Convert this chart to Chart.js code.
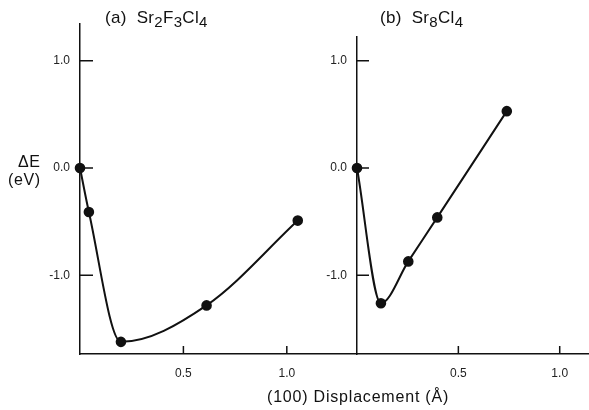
<!DOCTYPE html>
<html>
<head>
<meta charset="utf-8">
<script src="https://cdn.jsdelivr.net/npm/chart.js@4.4.1/dist/chart.umd.min.js"></script>
<style>
  body { margin: 0; background: #fff; font-family: "Liberation Sans", Arial, sans-serif; color: #111; }
  #fig { position: relative; width: 589px; height: 410px; overflow: hidden; }
  canvas { position: absolute; top: 0; }
  #chartA { left: 0; }
  #chartB { left: 290px; }
  .lbl { position: absolute; white-space: nowrap; line-height: 1; }
  .ttl { font-size: 17px; letter-spacing: 0.3px; }
  .ttl sub { font-size: 15px; vertical-align: -4px; line-height: 0; }
</style>
</head>
<body>
<div id="fig">
  <canvas id="chartA" width="363" height="410"></canvas>
  <canvas id="chartB" width="305" height="410"></canvas>
  <div class="lbl ttl" style="left:105px; top:9px;">(a)&nbsp; Sr<sub>2</sub>F<sub>3</sub>Cl<sub>4</sub></div>
  <div class="lbl ttl" style="left:380px; top:9px;">(b)&nbsp; Sr<sub>8</sub>Cl<sub>4</sub></div>
  <div class="lbl" style="left:18px; top:154px; font-size:16px; letter-spacing:0.6px;">&Delta;E</div>
  <div class="lbl" style="left:8px; top:172px; font-size:16px; letter-spacing:0.6px;">(eV)</div>
  <div class="lbl" style="left:267px; top:389px; font-size:16px; letter-spacing:0.8px;">(100) Displacement (Å)</div>
</div>
<script>
// panel (a) Sr2F3Cl4
const dispA = [0, 0.043, 0.198, 0.612, 1.053];
const energyA = [0, -0.41, -1.62, -1.28, -0.49];
// panel (b) Sr8Cl4
const dispB = [0, 0.118, 0.253, 0.396, 0.739];
const energyB = [0, -1.26, -0.87, -0.46, 0.53];
// tick marks
const yTicks = [-1, 0, 1];
const xTicks = [0.5, 1.0];

// ticks drawn inward from the axes
const inwardTicks = {
  id: 'inwardTicks',
  afterDraw(chart, args, opts) {
    const { ctx, chartArea: a, scales: { x, y } } = chart;
    ctx.save();
    ctx.strokeStyle = '#111';
    ctx.lineWidth = 1.5;
    ctx.beginPath();
    yTicks.forEach(v => {
      const py = y.getPixelForValue(v);
      ctx.moveTo(a.left, py);
      ctx.lineTo(a.left + opts.len, py);
    });
    xTicks.forEach(v => {
      const px = x.getPixelForValue(v);
      ctx.moveTo(px, a.bottom);
      ctx.lineTo(px, a.bottom - 8);
    });
    ctx.stroke();
    ctx.restore();
  }
};

function makeChart(id, xs, ys, opt) {
  return new Chart(document.getElementById(id), {
    type: 'line',
    data: {
      datasets: [{
        data: xs.map((v, i) => ({ x: v, y: ys[i] })),
        borderColor: '#111',
        backgroundColor: '#111',
        borderWidth: 2,
        pointRadius: 4.3,
        pointBackgroundColor: '#111',
        cubicInterpolationMode: 'monotone',
        clip: false
      }]
    },
    options: {
      responsive: false,
      animation: false,
      layout: { padding: { top: opt.top, right: 0, left: 0, bottom: 0 } },
      plugins: {
        legend: { display: false },
        tooltip: { enabled: false },
        inwardTicks: { len: opt.tickLen }
      },
      scales: {
        x: {
          type: 'linear',
          min: 0,
          max: opt.xMax,
          afterFit: s => { s.height = 56; },
          grid: { display: false, drawTicks: false },
          border: { display: true, color: '#111', width: 1.5 },
          ticks: {
            stepSize: 0.5,
            includeBounds: false,
            padding: 12,
            color: '#222',
            font: { family: 'Liberation Sans', size: 12 },
            callback: v => xTicks.includes(v) ? v.toFixed(1) : ''
          }
        },
        y: {
          min: -1.733,
          max: opt.yMax,
          afterFit: s => { s.width = opt.yWidth; },
          grid: { display: false, drawTicks: false },
          border: { display: true, color: '#111', width: 1.5 },
          ticks: {
            stepSize: 1,
            includeBounds: false,
            padding: 10,
            color: '#222',
            font: { family: 'Liberation Sans', size: 12 },
            callback: v => yTicks.includes(v) ? v.toFixed(1) : ''
          }
        }
      }
    },
    plugins: [inwardTicks]
  });
}

makeChart('chartA', dispA, energyA, { top: 24, xMax: 1.338, yMax: 1.342, yWidth: 80, tickLen: 13 });
makeChart('chartB', dispB, energyB, { top: 37, xMax: 1.143, yMax: 1.221, yWidth: 67, tickLen: 12 });
</script>
</body>
</html>
